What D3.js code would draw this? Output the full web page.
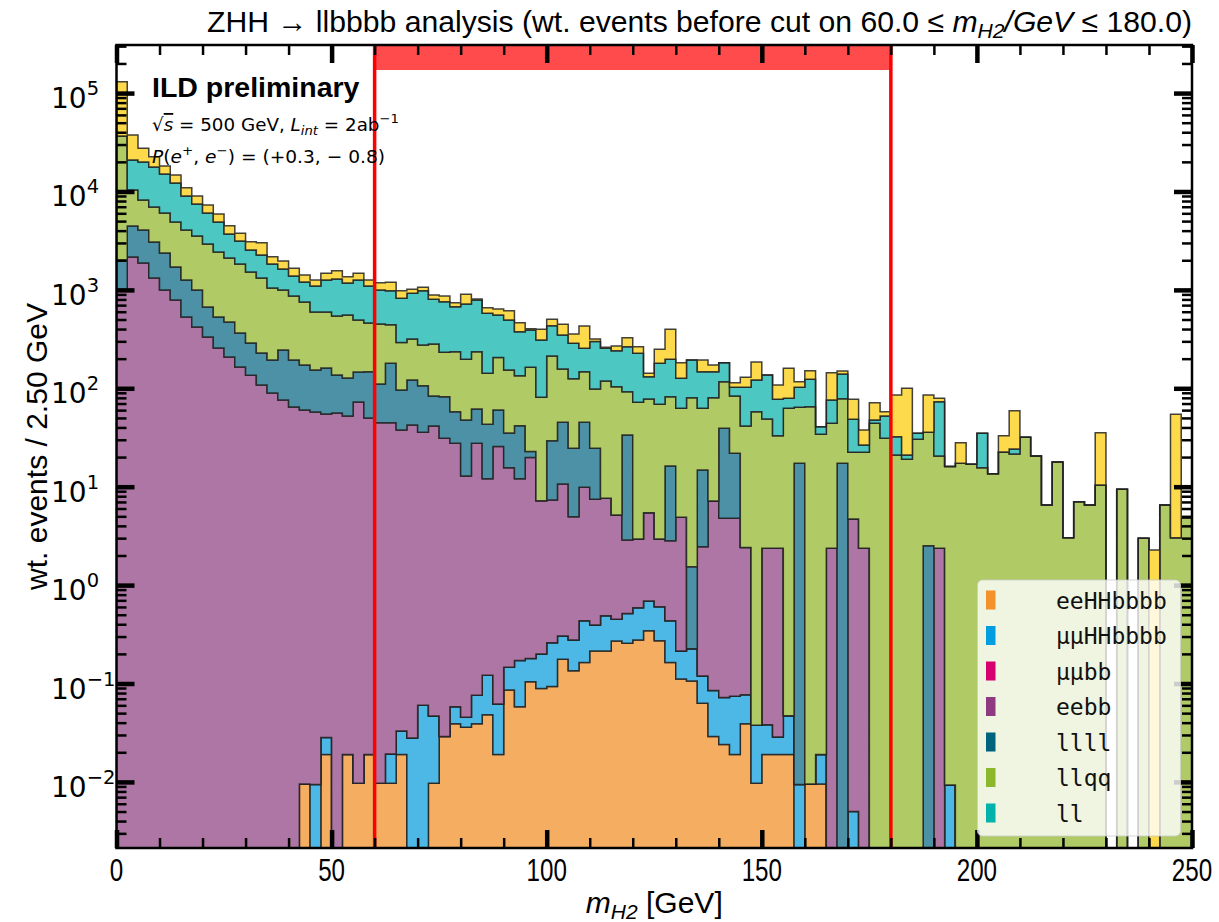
<!DOCTYPE html>
<html>
<head>
<meta charset="utf-8">
<script src="https://cdn.jsdelivr.net/npm/d3@7"></script>
<style>
  body { margin: 0; background: #fff; }
</style>
</head>
<body>
<div class="canvas"></div>
<script>
const WIDTH = 1219;
const HEIGHT = 922;
const margin = { top: 45, right: 27, bottom: 74, left: 116.5 };
const graphWidth = WIDTH - margin.left - margin.right;
const graphHeight = HEIGHT - margin.top - margin.bottom;

// 100 bins of 2.5 GeV from 0 to 250 GeV
const binWidth = 2.5;
const xRange = [0, 250];
const yRange = [0.00213, 3.08e5];
const cutWindow = [60, 180];

// stacked series, bottom to top (wt. events / bin)
const eeHHbbbb = [
  0, 0, 0, 0, 0, 0, 0, 0, 0, 0,
  0, 0, 0, 0, 0, 0, 0, 0.0095, 0, 0.019,
  0, 0.019, 0.0097, 0.019, 0.0097, 0.0097, 0.019, 0, 0, 0.0097,
  0.029, 0.039, 0.036, 0.039, 0.048, 0.019, 0.086, 0.058, 0.104, 0.089,
  0.093, 0.176, 0.135, 0.163, 0.214, 0.214, 0.27, 0.256, 0.277, 0.344,
  0.272, 0.163, 0.111, 0.106, 0.063, 0.029, 0.024, 0.019, 0.039, 0.0097,
  0.019, 0.019, 0.019, 0, 0.0095, 0.0095, 0, 0, 0, 0,
  0, 0, 0, 0, 0, 0, 0, 0, 0, 0,
  0, 0, 0, 0, 0, 0, 0, 0, 0, 0,
  0, 0, 0, 0, 0, 0, 0, 0, 0, 0
];
const mumuHHbbbb = [
  0, 0, 0, 0, 0, 0, 0, 0, 0, 0,
  0, 0, 0, 0, 0, 0, 0, 0, 0.0094, 0.0092,
  0, 0, 0, 0, 0, 0.0095, 0.014, 0.028, 0.06, 0.037,
  0, 0.019, 0.0094, 0.037, 0.073, 0.043, 0.06, 0.113, 0.076, 0.11,
  0.167, 0.128, 0.142, 0.272, 0.179, 0.275, 0.179, 0.26, 0.312, 0.345,
  0.331, 0.272, 0.103, 0.12, 0.056, 0.056, 0.048, 0.055, 0.038, 0.028,
  0.019, 0.0096, 0.028, 0.0094, 0, 0.0095, 0, 0, 0.005, 0,
  0, 0, 0, 0, 0, 0, 0, 0.0093, 0, 0,
  0, 0, 0, 0, 0, 0, 0, 0, 0, 0,
  0, 0, 0, 0, 0, 0, 0, 0, 0, 0
];
const mumubb = [
  0, 0, 0, 0, 0, 0, 0, 0, 0, 0,
  0, 0, 0, 0, 0, 0, 0, 0, 0, 0,
  0, 0, 0, 0, 0, 0, 0, 0, 0, 0,
  0, 0, 0, 0, 0, 0, 0, 0, 0, 0,
  0, 0, 0, 0, 0, 0, 0, 0, 0, 0,
  0, 0, 0, 0, 0, 0, 0, 0, 0, 0,
  0, 0, 0, 0, 0, 0, 0, 0, 0, 0,
  0, 0, 0, 0, 0, 0, 0, 0, 0, 0,
  0, 0, 0, 0, 0, 0, 0, 0, 0, 0,
  0, 0, 0, 0, 0, 0, 0, 0, 0, 0
];
const eebb = [
  998, 2160, 1877, 1321, 998, 789, 531, 420, 332, 257,
  208, 165, 136, 108, 89.6, 76.1, 64.6, 60.2, 57.4, 54.8,
  56.1, 52.3, 72.6, 49.9, 44.7, 44.7, 37.7, 42.4, 35.7, 41.4,
  31.0, 27.6, 12.8, 27.6, 11.9, 25.5, 15.4, 11.9, 19.6, 7.0,
  7.07, 10.35, 4.68, 9.43, 7.06, 7.13, 4.71, 2.35, 2.35, 4.75,
  2.34, 2.39, 4.68, 0, 2.34, 7.08, 4.7, 4.7, 2.34, 0,
  2.33, 2.34, 0, 0, 0, 0, 2.37, 0, 4.7, 2.37,
  0, 0, 0, 0, 0, 0, 2.37, 0, 0, 0,
  0, 0, 0, 0, 0, 0, 0, 0, 0, 0,
  0, 0, 0, 0, 0, 0, 0, 0, 0, 0
];
const llll = [
  1016, 2300, 2183, 1749, 1372, 921, 730, 578, 338, 274,
  264, 200, 153, 120, 104, 169, 129, 112, 96, 106,
  80, 75, 74, 97, 65.9, 134.8, 58.4, 79, 70.6, 42.1,
  51.2, 30.2, 34.8, 34.0, 31.2, 34.7, 19.5, 29.5, 3.0, 0,
  22.0, 34.5, 19.6, 35.2, 17.2, 0, 0, 30.6, 0, 0,
  0, 13.4, 0, 1.31, 12.3, 0, 34.4, 17.1, 0, 0,
  0, 0, 0, 17.3, 0, 0, 0, 17.3, 0, 0,
  0, 0, 0, 0, 0, 2.51, 0, 0, 0, 0,
  0, 0, 0, 0, 0, 0, 0, 0, 0, 0,
  0, 0, 0, 0, 0, 0, 0, 0, 0, 0
];
const llqq = [
  34640, 5900, 4140, 3890, 3680, 3190, 2800, 2530, 2260, 1900,
  1640, 1468, 1231, 1093, 851, 753, 673, 581, 442, 435,
  406, 429, 347, 314, 339, 263, 195, 196, 169, 198.5,
  150, 177.7, 149.4, 173.9, 98.9, 144.8, 118.6, 92.9, 140.8, 73.8,
  183.7, 111.9, 100.6, 102.4, 73.8, 111, 98.6, 58.8, 69.2, 72.5,
  65.9, 66.0, 57.7, 78.7, 47.8, 73.0, 77.5, 61.6, 39, 57.8,
  46.4, 30.6, 62.6, 46.8, 65, 34.1, 41.7, 61.1, 17.7, 20.0,
  44.1, 31.0, 21.0, 19.0, 30.3, 33.2, 18.1, 16.0, 17.3, 16.9,
  15.6, 13.5, 22.5, 21.5, 31.8, 20.5, 6.52, 17.8, 3.03, 7.05,
  6.52, 10.4, 0, 9.4, 0, 2.99, 0, 6.52, 3.03, 4.77
];
const ll = [
  0, 10540, 11750, 10780, 9010, 7300, 4940, 3930, 3120, 2470,
  1590, 1307, 1025, 944, 788, 633, 517, 449, 500, 665,
  748, 619, 767, 635, 548, 539, 531, 606, 707, 520,
  527, 440, 522, 553.5, 436, 351, 340.5, 241.7, 228, 229,
  220, 191, 161.4, 107.5, 199.6, 136.4, 137.2, 172.7, 154.9, 53.3,
  110.7, 114.8, 63.8, 113.8, 84.9, 67.3, 65.3, 18.9, 61, 63.6,
  87.7, 44.3, 16.5, 38.3, 58.4, 6.6, 32, 61.3, 26, 4.1,
  3.5, 21.3, 11.2, 2.0, 4.6, 0, 52.6, 0, 0, 0,
  19.3, 0, 0, 2.7, 0, 0, 0, 0, 0, 0,
  0, 0, 0, 0, 0, 0, 0, 0, 0, 0
];
// top (yellow) component, not listed in the legend
const other = [
  94000, 16600, 7550, 4860, 3140, 2500, 1900, 1540, 1250, 1000,
  790, 620, 545, 755, 337, 339, 276, 217, 164, 214,
  279, 185, 214, 164, 185, 212, 160, 91, 80, 86,
  108, 66, 183, 19, 81, 84, 121, 88, 11.5, 88,
  69, 99, 69, 175, 19, 6, 28, 62, 38, 10.8,
  69.5, 201, 55.6, 0, 46.5, 25.1, 0, 11.6, 27, 63.6,
  0, 30.7, 80.6, 14.3, 27.6, 0, 68, 10.3, 28.9, 11.2,
  23.8, 5.5, 53.3, 79, 0, 49.8, 6.0, 0, 10.7, 0,
  0, 0, 10.5, 35, 0, 0, 0, 0, 0, 0,
  0, 25, 0, 0, 0, 0, 2.27, 0, 51.4, 0
];

const keys = ['eeHHbbbb', 'mumuHHbbbb', 'mumubb', 'eebb', 'llll', 'llqq', 'll', 'other'];
const seriesValues = [eeHHbbbb, mumuHHbbbb, mumubb, eebb, llll, llqq, ll, other];
const legendNames = ['eeHHbbbb', 'μμHHbbbb', 'μμbb', 'eebb', 'llll', 'llqq', 'll'];
const fillColors = ['#F5AD62', '#4DB8E5', '#E24C99', '#AD76A4', '#4C91A6', '#B0CA66', '#4CC7C2', '#FDD94C'];
const legendColors = ['#F29229', '#009EE0', '#D6006F', '#8E3A80', '#00637E', '#8DB72A', '#00B2AA'];

const xTicks = [0, 50, 100, 150, 200, 250];
const yTickExponents = [-2, -1, 0, 1, 2, 3, 4, 5];

const svg = d3.select('.canvas')
  .append('svg')
    .attr('width', WIDTH)
    .attr('height', HEIGHT)
    .style('display', 'block');

const graph = svg.append('g')
  .attr('transform', `translate(${margin.left},${margin.top})`);

svg.append('defs').append('clipPath')
    .attr('id', 'plotClip')
  .append('rect')
    .attr('width', graphWidth)
    .attr('height', graphHeight);

const x = d3.scaleLinear().domain(xRange).range([0, graphWidth]);
const y = d3.scaleLog().domain(yRange).range([graphHeight, 0]);

// stack the samples bin by bin
const rows = eeHHbbbb.map((_, i) => {
  const r = {};
  keys.forEach((k, j) => { r[k] = seriesValues[j][i]; });
  return r;
});
const stacked = d3.stack().keys(keys)(rows);

const floorVal = 1e-6;
const area = d3.area()
  .x(d => x(d.x))
  .y0(d => y(Math.max(d.lo, floorVal)))
  .y1(d => y(Math.max(d.hi, floorVal)));

const histGroup = graph.append('g').attr('clip-path', 'url(#plotClip)');

stacked.forEach((layer, li) => {
  const pts = [];
  layer.forEach((s, i) => {
    pts.push({ x: i * binWidth, lo: s[0], hi: s[1] });
    pts.push({ x: (i + 1) * binWidth, lo: s[0], hi: s[1] });
  });
  histGroup.append('path')
    .datum(pts)
    .attr('d', area)
    .attr('fill', fillColors[li])
    .attr('stroke', '#222')
    .attr('stroke-opacity', 0.85)
    .attr('stroke-width', 1.5)
    .attr('stroke-linejoin', 'miter');
});

// cut window: band on top + vertical lines
graph.append('rect')
  .attr('x', x(cutWindow[0]))
  .attr('y', 0)
  .attr('width', x(cutWindow[1]) - x(cutWindow[0]))
  .attr('height', 25)
  .attr('fill', '#FF4B4B');

cutWindow.forEach(v => {
  graph.append('line')
    .attr('x1', x(v)).attr('x2', x(v))
    .attr('y1', 0).attr('y2', graphHeight)
    .attr('stroke', '#FF0000')
    .attr('stroke-width', 3.5);
});

// ticks on all four sides, pointing inwards
const xMinor = d3.range(0, 251, 10).filter(v => v % 50 !== 0);
const yMajor = yTickExponents.map(e => Math.pow(10, e));
const yMinor = [];
for (let e = -3; e <= 5; e++) {
  for (let d = 2; d <= 9; d++) {
    const v = d * Math.pow(10, e);
    if (v > yRange[0] && v < yRange[1]) yMinor.push(v);
  }
}

function styleAxis(g, w) {
  g.select('.domain').remove();
  g.selectAll('line').attr('stroke', '#000').attr('stroke-width', w);
  g.selectAll('text').remove();
}

const majorLen = 18, minorLen = 10;
[
  [d3.axisBottom(x).tickValues(xTicks).tickSize(-majorLen), `translate(0,${graphHeight})`, 4.5],
  [d3.axisBottom(x).tickValues(xMinor).tickSize(-minorLen), `translate(0,${graphHeight})`, 2.5],
  [d3.axisTop(x).tickValues(xTicks).tickSize(-majorLen), 'translate(0,0)', 4.5],
  [d3.axisTop(x).tickValues(xMinor).tickSize(-minorLen), 'translate(0,0)', 2.5],
  [d3.axisLeft(y).tickValues(yMajor).tickSize(-majorLen), 'translate(0,0)', 4.5],
  [d3.axisLeft(y).tickValues(yMinor).tickSize(-minorLen), 'translate(0,0)', 2.5],
  [d3.axisRight(y).tickValues(yMajor).tickSize(-majorLen), `translate(${graphWidth},0)`, 4.5],
  [d3.axisRight(y).tickValues(yMinor).tickSize(-minorLen), `translate(${graphWidth},0)`, 2.5]
].forEach(([axis, tr, w]) => {
  graph.append('g').attr('transform', tr).call(axis).call(g => styleAxis(g, w));
});

// frame
graph.append('rect')
  .attr('width', graphWidth)
  .attr('height', graphHeight)
  .attr('fill', 'none')
  .attr('stroke', '#000')
  .attr('stroke-width', 2.5);

// x tick labels (narrow, tall digits)
xTicks.forEach(v => {
  svg.append('text')
    .attr('transform', `translate(${margin.left + x(v)},${margin.top + graphHeight + 33}) scale(0.78,1)`)
    .attr('text-anchor', 'middle')
    .attr('font-family', 'Liberation Sans, Arial, sans-serif')
    .attr('font-size', 31)
    .text(v);
});

// y tick labels 10^n
yTickExponents.forEach(e => {
  const t = svg.append('text')
    .attr('x', 51)
    .attr('y', margin.top + y(Math.pow(10, e)) + 15)
    .attr('font-family', 'DejaVu Sans, sans-serif')
    .attr('font-size', 28);
  t.append('tspan').text('10');
  t.append('tspan')
    .attr('dy', -13)
    .attr('font-size', 19.5)
    .text(e < 0 ? '\u2212' + (-e) : String(e));
});

// axis titles
const xl = svg.append('text')
  .attr('x', margin.left + graphWidth / 2)
  .attr('y', 913)
  .attr('text-anchor', 'middle')
  .attr('font-family', 'Liberation Sans, Arial, sans-serif')
  .attr('font-size', 30)
  .attr('textLength', 137)
  .attr('lengthAdjust', 'spacingAndGlyphs');
xl.append('tspan').attr('font-style', 'italic').text('m');
xl.append('tspan').attr('font-style', 'italic').attr('font-size', 21).attr('dy', 6).text('H2');
xl.append('tspan').attr('dy', -6).text(' [GeV]');

svg.append('text')
  .attr('transform', `translate(47,${margin.top + graphHeight / 2}) rotate(-90)`)
  .attr('text-anchor', 'middle')
  .attr('font-family', 'Liberation Sans, Arial, sans-serif')
  .attr('font-size', 30)
  .attr('textLength', 287)
  .attr('lengthAdjust', 'spacingAndGlyphs')
  .text('wt. events / 2.50 GeV');

// title
const title = svg.append('text')
  .attr('x', 207)
  .attr('y', 32)
  .attr('font-family', 'Liberation Sans, Arial, sans-serif')
  .attr('font-size', 30)
  .attr('textLength', 985)
  .attr('lengthAdjust', 'spacingAndGlyphs');
title.append('tspan').text('ZHH \u2192 llbbbb analysis (wt. events before cut on 60.0 \u2264 ');
title.append('tspan').attr('font-style', 'italic').text('m');
title.append('tspan').attr('font-style', 'italic').attr('font-size', 21).attr('dy', 6).text('H2');
title.append('tspan').attr('font-style', 'italic').attr('dy', -6).text('/GeV');
title.append('tspan').text(' \u2264 180.0)');

// ILD label block
svg.append('text')
  .attr('x', 152)
  .attr('y', 97)
  .attr('font-family', 'Liberation Sans, Arial, sans-serif')
  .attr('font-weight', 'bold')
  .attr('font-size', 28.5)
  .text('ILD preliminary');

const l2 = svg.append('text')
  .attr('x', 152)
  .attr('y', 131)
  .attr('font-family', 'DejaVu Sans, sans-serif')
  .attr('font-size', 18)
  .attr('textLength', 247)
  .attr('lengthAdjust', 'spacingAndGlyphs');
l2.append('tspan').text('\u221A');
l2.append('tspan').attr('font-style', 'italic').attr('text-decoration', 'overline').text('s');
l2.append('tspan').text(' = 500 GeV, ');
l2.append('tspan').attr('font-style', 'italic').text('L');
l2.append('tspan').attr('font-style', 'italic').attr('font-size', 13).attr('dy', 4).text('int');
l2.append('tspan').attr('dy', -4).text(' = 2ab');
l2.append('tspan').attr('font-size', 13).attr('dy', -8).text('\u22121');

const l3 = svg.append('text')
  .attr('x', 152)
  .attr('y', 163)
  .attr('font-family', 'DejaVu Sans, sans-serif')
  .attr('font-size', 18)
  .attr('textLength', 233)
  .attr('lengthAdjust', 'spacingAndGlyphs');
l3.append('tspan').attr('font-style', 'italic').text('P');
l3.append('tspan').text('(');
l3.append('tspan').attr('font-style', 'italic').text('e');
l3.append('tspan').attr('font-size', 13).attr('dy', -8).text('+');
l3.append('tspan').attr('dy', 8).text(', ');
l3.append('tspan').attr('font-style', 'italic').text('e');
l3.append('tspan').attr('font-size', 13).attr('dy', -8).text('\u2212');
l3.append('tspan').attr('dy', 8).text(') = (+0.3, \u2212 0.8)');

// legend
const legend = svg.append('g');
legend.append('rect')
  .attr('x', 977.5)
  .attr('y', 580)
  .attr('width', 203)
  .attr('height', 256)
  .attr('rx', 5)
  .attr('fill', '#fff')
  .attr('fill-opacity', 0.8)
  .attr('stroke', '#cccccc')
  .attr('stroke-opacity', 0.8);

legendNames.forEach((name, i) => {
  const cy = 600 + i * 35.5;
  legend.append('rect')
    .attr('x', 986)
    .attr('y', cy - 9.5)
    .attr('width', 9.5)
    .attr('height', 19)
    .attr('fill', legendColors[i]);
  legend.append('text')
    .attr('x', 1056)
    .attr('y', cy + 8.5)
    .attr('font-family', 'DejaVu Sans Mono, monospace')
    .attr('font-size', 23)
    .attr('fill', '#111')
    .text(name);
});
</script>
</body>
</html>
